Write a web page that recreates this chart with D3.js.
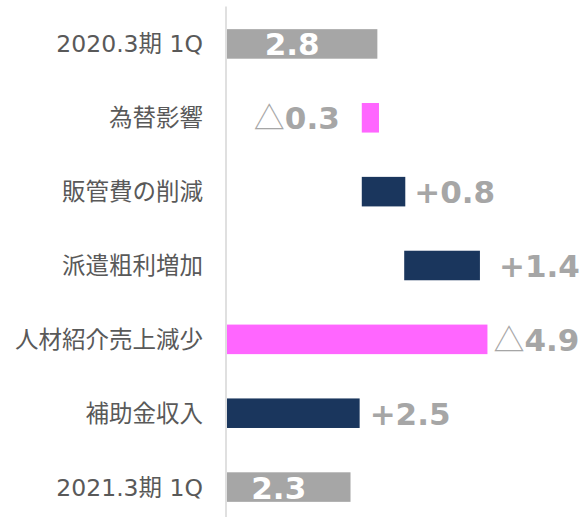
<!DOCTYPE html>
<html>
<head>
<meta charset="utf-8">
<script src="https://cdn.jsdelivr.net/npm/d3@7"></script>
<style>
    body { margin: 0; background: #ffffff; }
    svg { display: block; }
</style>
</head>
<body>
<div id="chart"></div>
<script>
// waterfall data
var categories = ["2020.3期 1Q", "為替影響", "販管費の削減", "派遣粗利増加", "人材紹介売上減少", "補助金収入", "2021.3期 1Q"];
var barStart = [0, 2.51, 2.51, 3.30, 0, 0, 0];
var barEnd = [2.8, 2.83, 3.32, 4.71, 4.85, 2.47, 2.3];
var valueLabels = ["2.8", "△0.3", "+0.8", "+1.4", "△4.9", "+2.5", "2.3"];
var kinds = ["total", "down", "up", "up", "down", "up", "total"];

// layout only: gap between bar end and its outside label
var labelGap = [0, 22, 9, 19, 6, 10, 0];

var width = 584, height = 517;
var colors = {total: "#a6a6a6", up: "#1a365d", down: "#ff66ff"};

var svg = d3.select("#chart")
    .append("svg")
    .attr("width", width)
    .attr("height", height);

var xScale = d3.scaleLinear()
    .domain([0, 6.5])
    .range([227, 227 + 6.5 * 53.7]);

var yScale = d3.scaleBand()
    .domain(categories)
    .range([7, 524])
    .paddingInner(0.6)
    .paddingOuter(0.3);

var rows = categories.map(function (c, i) {
    return {cat: c, start: barStart[i], end: barEnd[i], label: valueLabels[i], kind: kinds[i], gap: labelGap[i]};
});

// vertical axis line
svg.append("line")
    .attr("x1", xScale(0) - 1)
    .attr("x2", xScale(0) - 1)
    .attr("y1", 6.5)
    .attr("y2", height)
    .attr("stroke", "#d9d9d9")
    .attr("stroke-width", 1.6);

svg.selectAll(".bar")
    .data(rows)
    .enter()
    .append("rect")
    .attr("class", "bar")
    .attr("x", function (d) { return xScale(d.start); })
    .attr("y", function (d) { return yScale(d.cat); })
    .attr("width", function (d) { return xScale(d.end) - xScale(d.start); })
    .attr("height", yScale.bandwidth())
    .attr("fill", function (d) { return colors[d.kind]; });

// category labels
svg.selectAll(".cat")
    .data(rows)
    .enter()
    .append("text")
    .attr("class", "cat")
    .attr("x", 203)
    .attr("y", function (d) { return yScale(d.cat) + yScale.bandwidth() / 2 + 8.5; })
    .attr("text-anchor", "end")
    .attr("font-family", "'DejaVu Sans', 'Noto Sans CJK JP', sans-serif")
    .attr("font-size", "23.5px")
    .attr("fill", "#595959")
    .text(function (d) { return d.cat; });

// value labels
var valueText = svg.selectAll(".val")
    .data(rows)
    .enter()
    .append("text")
    .attr("class", "val")
    .attr("font-family", "'DejaVu Sans', sans-serif")
    .attr("font-weight", "bold")
    .attr("font-size", "31px")
    .attr("y", function (d) { return yScale(d.cat) + yScale.bandwidth() / 2 + 11.5; })
    .attr("x", function (d) {
        if (d.kind === "total") return xScale((d.start + d.end) / 2) - 10;
        if (d.kind === "down" && d.start > 0) return xScale(d.start) - d.gap;
        return xScale(d.end) + d.gap;
    })
    .attr("text-anchor", function (d) {
        if (d.kind === "total") return "middle";
        if (d.kind === "down" && d.start > 0) return "end";
        return "start";
    })
    .attr("fill", function (d) { return d.kind === "total" ? "#ffffff" : "#a6a6a6"; });

valueText.each(function (d) {
    var t = d3.select(this);
    if (d.label.charAt(0) === "△") {
        // triangle is a thin CJK glyph in the original
        t.append("tspan")
            .attr("font-family", "'Noto Sans CJK JP', sans-serif")
            .attr("font-weight", "normal")
            .text("△");
        t.append("tspan").text(d.label.slice(1));
    } else {
        t.text(d.label);
    }
});
</script>
</body>
</html>
